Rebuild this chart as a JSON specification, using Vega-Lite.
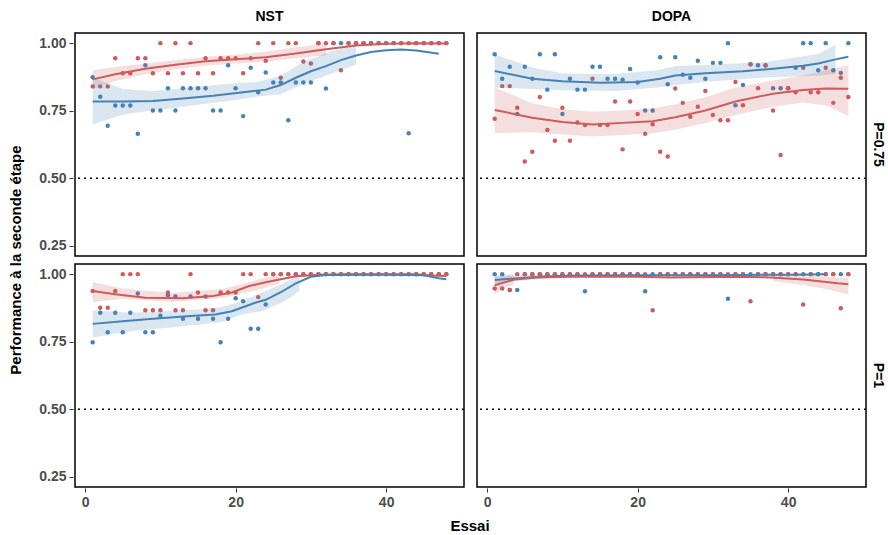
{
"$schema":"https://vega.github.io/schema/vega-lite/v6.json",
"background":"white",
"padding":{"left":8,"top":10,"right":2,"bottom":0},
"data":{"values":[
{"c":"NST","P":"P=0.75","k":"pt","g":"B","essai":1,"perf":0.874},{"c":"NST","P":"P=0.75","k":"pt","g":"B","essai":2,"perf":0.802},{"c":"NST","P":"P=0.75","k":"pt","g":"B","essai":3,"perf":0.694},{"c":"NST","P":"P=0.75","k":"pt","g":"B","essai":4,"perf":0.769},{"c":"NST","P":"P=0.75","k":"pt","g":"B","essai":5,"perf":0.769},{"c":"NST","P":"P=0.75","k":"pt","g":"B","essai":6,"perf":0.769},{"c":"NST","P":"P=0.75","k":"pt","g":"B","essai":7,"perf":0.665},{"c":"NST","P":"P=0.75","k":"pt","g":"B","essai":8,"perf":0.918},{"c":"NST","P":"P=0.75","k":"pt","g":"B","essai":9,"perf":0.751},{"c":"NST","P":"P=0.75","k":"pt","g":"B","essai":10,"perf":0.751},{"c":"NST","P":"P=0.75","k":"pt","g":"B","essai":11,"perf":0.833},{"c":"NST","P":"P=0.75","k":"pt","g":"B","essai":12,"perf":0.751},{"c":"NST","P":"P=0.75","k":"pt","g":"B","essai":13,"perf":0.833},{"c":"NST","P":"P=0.75","k":"pt","g":"B","essai":14,"perf":0.833},{"c":"NST","P":"P=0.75","k":"pt","g":"B","essai":15,"perf":0.833},{"c":"NST","P":"P=0.75","k":"pt","g":"B","essai":16,"perf":0.833},{"c":"NST","P":"P=0.75","k":"pt","g":"B","essai":17,"perf":0.751},{"c":"NST","P":"P=0.75","k":"pt","g":"B","essai":18,"perf":0.751},{"c":"NST","P":"P=0.75","k":"pt","g":"B","essai":19,"perf":0.918},{"c":"NST","P":"P=0.75","k":"pt","g":"B","essai":20,"perf":0.833},{"c":"NST","P":"P=0.75","k":"pt","g":"B","essai":21,"perf":0.730},{"c":"NST","P":"P=0.75","k":"pt","g":"B","essai":22,"perf":0.909},{"c":"NST","P":"P=0.75","k":"pt","g":"B","essai":23,"perf":0.818},{"c":"NST","P":"P=0.75","k":"pt","g":"B","essai":24,"perf":0.891},{"c":"NST","P":"P=0.75","k":"pt","g":"B","essai":25,"perf":0.854},{"c":"NST","P":"P=0.75","k":"pt","g":"B","essai":26,"perf":0.854},{"c":"NST","P":"P=0.75","k":"pt","g":"B","essai":27,"perf":0.715},{"c":"NST","P":"P=0.75","k":"pt","g":"B","essai":28,"perf":0.854},{"c":"NST","P":"P=0.75","k":"pt","g":"B","essai":29,"perf":0.854},{"c":"NST","P":"P=0.75","k":"pt","g":"B","essai":30,"perf":0.854},{"c":"NST","P":"P=0.75","k":"pt","g":"B","essai":31,"perf":1},{"c":"NST","P":"P=0.75","k":"pt","g":"B","essai":32,"perf":0.832},{"c":"NST","P":"P=0.75","k":"pt","g":"B","essai":33,"perf":1},{"c":"NST","P":"P=0.75","k":"pt","g":"B","essai":34,"perf":1},{"c":"NST","P":"P=0.75","k":"pt","g":"B","essai":35,"perf":1},{"c":"NST","P":"P=0.75","k":"pt","g":"B","essai":36,"perf":1},{"c":"NST","P":"P=0.75","k":"pt","g":"B","essai":37,"perf":1},{"c":"NST","P":"P=0.75","k":"pt","g":"B","essai":38,"perf":1},{"c":"NST","P":"P=0.75","k":"pt","g":"B","essai":39,"perf":1},{"c":"NST","P":"P=0.75","k":"pt","g":"B","essai":40,"perf":1},{"c":"NST","P":"P=0.75","k":"pt","g":"B","essai":41,"perf":1},{"c":"NST","P":"P=0.75","k":"pt","g":"B","essai":42,"perf":1},{"c":"NST","P":"P=0.75","k":"pt","g":"B","essai":43,"perf":0.667},{"c":"NST","P":"P=0.75","k":"pt","g":"B","essai":44,"perf":1},{"c":"NST","P":"P=0.75","k":"pt","g":"B","essai":45,"perf":1},{"c":"NST","P":"P=0.75","k":"pt","g":"B","essai":46,"perf":1},{"c":"NST","P":"P=0.75","k":"pt","g":"B","essai":47,"perf":1},{"c":"NST","P":"P=0.75","k":"pt","g":"B","essai":48,"perf":1},
{"c":"NST","P":"P=0.75","k":"pt","g":"R","essai":1,"perf":0.84},{"c":"NST","P":"P=0.75","k":"pt","g":"R","essai":2,"perf":0.84},{"c":"NST","P":"P=0.75","k":"pt","g":"R","essai":3,"perf":0.84},{"c":"NST","P":"P=0.75","k":"pt","g":"R","essai":4,"perf":0.944},{"c":"NST","P":"P=0.75","k":"pt","g":"R","essai":5,"perf":0.889},{"c":"NST","P":"P=0.75","k":"pt","g":"R","essai":6,"perf":0.889},{"c":"NST","P":"P=0.75","k":"pt","g":"R","essai":7,"perf":0.944},{"c":"NST","P":"P=0.75","k":"pt","g":"R","essai":8,"perf":0.944},{"c":"NST","P":"P=0.75","k":"pt","g":"R","essai":9,"perf":0.889},{"c":"NST","P":"P=0.75","k":"pt","g":"R","essai":10,"perf":1},{"c":"NST","P":"P=0.75","k":"pt","g":"R","essai":11,"perf":0.889},{"c":"NST","P":"P=0.75","k":"pt","g":"R","essai":12,"perf":1},{"c":"NST","P":"P=0.75","k":"pt","g":"R","essai":13,"perf":0.889},{"c":"NST","P":"P=0.75","k":"pt","g":"R","essai":14,"perf":1},{"c":"NST","P":"P=0.75","k":"pt","g":"R","essai":15,"perf":0.889},{"c":"NST","P":"P=0.75","k":"pt","g":"R","essai":16,"perf":0.944},{"c":"NST","P":"P=0.75","k":"pt","g":"R","essai":17,"perf":0.889},{"c":"NST","P":"P=0.75","k":"pt","g":"R","essai":18,"perf":0.944},{"c":"NST","P":"P=0.75","k":"pt","g":"R","essai":19,"perf":0.944},{"c":"NST","P":"P=0.75","k":"pt","g":"R","essai":20,"perf":0.944},{"c":"NST","P":"P=0.75","k":"pt","g":"R","essai":21,"perf":0.889},{"c":"NST","P":"P=0.75","k":"pt","g":"R","essai":22,"perf":0.944},{"c":"NST","P":"P=0.75","k":"pt","g":"R","essai":23,"perf":1},{"c":"NST","P":"P=0.75","k":"pt","g":"R","essai":24,"perf":0.935},{"c":"NST","P":"P=0.75","k":"pt","g":"R","essai":25,"perf":1},{"c":"NST","P":"P=0.75","k":"pt","g":"R","essai":26,"perf":0.872},{"c":"NST","P":"P=0.75","k":"pt","g":"R","essai":27,"perf":1},{"c":"NST","P":"P=0.75","k":"pt","g":"R","essai":28,"perf":1},{"c":"NST","P":"P=0.75","k":"pt","g":"R","essai":29,"perf":0.932},{"c":"NST","P":"P=0.75","k":"pt","g":"R","essai":30,"perf":0.925},{"c":"NST","P":"P=0.75","k":"pt","g":"R","essai":31,"perf":1},{"c":"NST","P":"P=0.75","k":"pt","g":"R","essai":32,"perf":1},{"c":"NST","P":"P=0.75","k":"pt","g":"R","essai":33,"perf":1},{"c":"NST","P":"P=0.75","k":"pt","g":"R","essai":34,"perf":0.90},{"c":"NST","P":"P=0.75","k":"pt","g":"R","essai":35,"perf":1},{"c":"NST","P":"P=0.75","k":"pt","g":"R","essai":36,"perf":1},{"c":"NST","P":"P=0.75","k":"pt","g":"R","essai":37,"perf":1},{"c":"NST","P":"P=0.75","k":"pt","g":"R","essai":38,"perf":1},{"c":"NST","P":"P=0.75","k":"pt","g":"R","essai":39,"perf":1},{"c":"NST","P":"P=0.75","k":"pt","g":"R","essai":40,"perf":1},{"c":"NST","P":"P=0.75","k":"pt","g":"R","essai":41,"perf":1},{"c":"NST","P":"P=0.75","k":"pt","g":"R","essai":42,"perf":1},{"c":"NST","P":"P=0.75","k":"pt","g":"R","essai":43,"perf":1},{"c":"NST","P":"P=0.75","k":"pt","g":"R","essai":44,"perf":1},{"c":"NST","P":"P=0.75","k":"pt","g":"R","essai":45,"perf":1},{"c":"NST","P":"P=0.75","k":"pt","g":"R","essai":46,"perf":1},{"c":"NST","P":"P=0.75","k":"pt","g":"R","essai":47,"perf":1},{"c":"NST","P":"P=0.75","k":"pt","g":"R","essai":48,"perf":1},
{"c":"DOPA","P":"P=0.75","k":"pt","g":"B","essai":1,"perf":0.959},{"c":"DOPA","P":"P=0.75","k":"pt","g":"B","essai":2,"perf":0.868},{"c":"DOPA","P":"P=0.75","k":"pt","g":"B","essai":3,"perf":0.913},{"c":"DOPA","P":"P=0.75","k":"pt","g":"B","essai":4,"perf":0.738},{"c":"DOPA","P":"P=0.75","k":"pt","g":"B","essai":5,"perf":0.913},{"c":"DOPA","P":"P=0.75","k":"pt","g":"B","essai":6,"perf":0.868},{"c":"DOPA","P":"P=0.75","k":"pt","g":"B","essai":7,"perf":0.959},{"c":"DOPA","P":"P=0.75","k":"pt","g":"B","essai":8,"perf":0.828},{"c":"DOPA","P":"P=0.75","k":"pt","g":"B","essai":9,"perf":0.959},{"c":"DOPA","P":"P=0.75","k":"pt","g":"B","essai":10,"perf":0.738},{"c":"DOPA","P":"P=0.75","k":"pt","g":"B","essai":11,"perf":0.868},{"c":"DOPA","P":"P=0.75","k":"pt","g":"B","essai":12,"perf":0.828},{"c":"DOPA","P":"P=0.75","k":"pt","g":"B","essai":13,"perf":0.828},{"c":"DOPA","P":"P=0.75","k":"pt","g":"B","essai":14,"perf":0.913},{"c":"DOPA","P":"P=0.75","k":"pt","g":"B","essai":15,"perf":0.913},{"c":"DOPA","P":"P=0.75","k":"pt","g":"B","essai":16,"perf":0.868},{"c":"DOPA","P":"P=0.75","k":"pt","g":"B","essai":17,"perf":0.868},{"c":"DOPA","P":"P=0.75","k":"pt","g":"B","essai":18,"perf":0.865},{"c":"DOPA","P":"P=0.75","k":"pt","g":"B","essai":19,"perf":0.904},{"c":"DOPA","P":"P=0.75","k":"pt","g":"B","essai":20,"perf":0.854},{"c":"DOPA","P":"P=0.75","k":"pt","g":"B","essai":21,"perf":0.751},{"c":"DOPA","P":"P=0.75","k":"pt","g":"B","essai":22,"perf":0.751},{"c":"DOPA","P":"P=0.75","k":"pt","g":"B","essai":23,"perf":0.948},{"c":"DOPA","P":"P=0.75","k":"pt","g":"B","essai":24,"perf":0.848},{"c":"DOPA","P":"P=0.75","k":"pt","g":"B","essai":25,"perf":0.948},{"c":"DOPA","P":"P=0.75","k":"pt","g":"B","essai":26,"perf":0.883},{"c":"DOPA","P":"P=0.75","k":"pt","g":"B","essai":27,"perf":0.872},{"c":"DOPA","P":"P=0.75","k":"pt","g":"B","essai":28,"perf":0.935},{"c":"DOPA","P":"P=0.75","k":"pt","g":"B","essai":29,"perf":0.868},{"c":"DOPA","P":"P=0.75","k":"pt","g":"B","essai":30,"perf":0.927},{"c":"DOPA","P":"P=0.75","k":"pt","g":"B","essai":31,"perf":0.927},{"c":"DOPA","P":"P=0.75","k":"pt","g":"B","essai":32,"perf":1},{"c":"DOPA","P":"P=0.75","k":"pt","g":"B","essai":33,"perf":0.770},{"c":"DOPA","P":"P=0.75","k":"pt","g":"B","essai":34,"perf":0.845},{"c":"DOPA","P":"P=0.75","k":"pt","g":"B","essai":35,"perf":0.922},{"c":"DOPA","P":"P=0.75","k":"pt","g":"B","essai":36,"perf":0.918},{"c":"DOPA","P":"P=0.75","k":"pt","g":"B","essai":37,"perf":0.917},{"c":"DOPA","P":"P=0.75","k":"pt","g":"B","essai":38,"perf":0.833},{"c":"DOPA","P":"P=0.75","k":"pt","g":"B","essai":39,"perf":0.833},{"c":"DOPA","P":"P=0.75","k":"pt","g":"B","essai":40,"perf":0.833},{"c":"DOPA","P":"P=0.75","k":"pt","g":"B","essai":41,"perf":0.909},{"c":"DOPA","P":"P=0.75","k":"pt","g":"B","essai":42,"perf":1},{"c":"DOPA","P":"P=0.75","k":"pt","g":"B","essai":43,"perf":1},{"c":"DOPA","P":"P=0.75","k":"pt","g":"B","essai":44,"perf":0.90},{"c":"DOPA","P":"P=0.75","k":"pt","g":"B","essai":45,"perf":1},{"c":"DOPA","P":"P=0.75","k":"pt","g":"B","essai":46,"perf":0.90},{"c":"DOPA","P":"P=0.75","k":"pt","g":"B","essai":47,"perf":0.89},{"c":"DOPA","P":"P=0.75","k":"pt","g":"B","essai":48,"perf":1},
{"c":"DOPA","P":"P=0.75","k":"pt","g":"R","essai":1,"perf":0.72},{"c":"DOPA","P":"P=0.75","k":"pt","g":"R","essai":2,"perf":0.841},{"c":"DOPA","P":"P=0.75","k":"pt","g":"R","essai":3,"perf":0.841},{"c":"DOPA","P":"P=0.75","k":"pt","g":"R","essai":4,"perf":0.761},{"c":"DOPA","P":"P=0.75","k":"pt","g":"R","essai":5,"perf":0.562},{"c":"DOPA","P":"P=0.75","k":"pt","g":"R","essai":6,"perf":0.598},{"c":"DOPA","P":"P=0.75","k":"pt","g":"R","essai":7,"perf":0.801},{"c":"DOPA","P":"P=0.75","k":"pt","g":"R","essai":8,"perf":0.679},{"c":"DOPA","P":"P=0.75","k":"pt","g":"R","essai":9,"perf":0.639},{"c":"DOPA","P":"P=0.75","k":"pt","g":"R","essai":10,"perf":0.761},{"c":"DOPA","P":"P=0.75","k":"pt","g":"R","essai":11,"perf":0.639},{"c":"DOPA","P":"P=0.75","k":"pt","g":"R","essai":12,"perf":0.706},{"c":"DOPA","P":"P=0.75","k":"pt","g":"R","essai":13,"perf":0.697},{"c":"DOPA","P":"P=0.75","k":"pt","g":"R","essai":14,"perf":0.868},{"c":"DOPA","P":"P=0.75","k":"pt","g":"R","essai":15,"perf":0.697},{"c":"DOPA","P":"P=0.75","k":"pt","g":"R","essai":16,"perf":0.697},{"c":"DOPA","P":"P=0.75","k":"pt","g":"R","essai":17,"perf":0.784},{"c":"DOPA","P":"P=0.75","k":"pt","g":"R","essai":18,"perf":0.607},{"c":"DOPA","P":"P=0.75","k":"pt","g":"R","essai":19,"perf":0.784},{"c":"DOPA","P":"P=0.75","k":"pt","g":"R","essai":20,"perf":0.738},{"c":"DOPA","P":"P=0.75","k":"pt","g":"R","essai":21,"perf":0.665},{"c":"DOPA","P":"P=0.75","k":"pt","g":"R","essai":22,"perf":0.70},{"c":"DOPA","P":"P=0.75","k":"pt","g":"R","essai":23,"perf":0.598},{"c":"DOPA","P":"P=0.75","k":"pt","g":"R","essai":24,"perf":0.581},{"c":"DOPA","P":"P=0.75","k":"pt","g":"R","essai":25,"perf":0.832},{"c":"DOPA","P":"P=0.75","k":"pt","g":"R","essai":26,"perf":0.779},{"c":"DOPA","P":"P=0.75","k":"pt","g":"R","essai":27,"perf":0.728},{"c":"DOPA","P":"P=0.75","k":"pt","g":"R","essai":28,"perf":0.765},{"c":"DOPA","P":"P=0.75","k":"pt","g":"R","essai":29,"perf":0.823},{"c":"DOPA","P":"P=0.75","k":"pt","g":"R","essai":30,"perf":0.734},{"c":"DOPA","P":"P=0.75","k":"pt","g":"R","essai":31,"perf":0.715},{"c":"DOPA","P":"P=0.75","k":"pt","g":"R","essai":32,"perf":0.715},{"c":"DOPA","P":"P=0.75","k":"pt","g":"R","essai":33,"perf":0.856},{"c":"DOPA","P":"P=0.75","k":"pt","g":"R","essai":34,"perf":0.770},{"c":"DOPA","P":"P=0.75","k":"pt","g":"R","essai":35,"perf":0.922},{"c":"DOPA","P":"P=0.75","k":"pt","g":"R","essai":36,"perf":0.833},{"c":"DOPA","P":"P=0.75","k":"pt","g":"R","essai":37,"perf":0.918},{"c":"DOPA","P":"P=0.75","k":"pt","g":"R","essai":38,"perf":0.751},{"c":"DOPA","P":"P=0.75","k":"pt","g":"R","essai":39,"perf":0.586},{"c":"DOPA","P":"P=0.75","k":"pt","g":"R","essai":40,"perf":0.833},{"c":"DOPA","P":"P=0.75","k":"pt","g":"R","essai":41,"perf":0.818},{"c":"DOPA","P":"P=0.75","k":"pt","g":"R","essai":42,"perf":0.909},{"c":"DOPA","P":"P=0.75","k":"pt","g":"R","essai":43,"perf":0.818},{"c":"DOPA","P":"P=0.75","k":"pt","g":"R","essai":44,"perf":0.818},{"c":"DOPA","P":"P=0.75","k":"pt","g":"R","essai":45,"perf":0.909},{"c":"DOPA","P":"P=0.75","k":"pt","g":"R","essai":46,"perf":0.779},{"c":"DOPA","P":"P=0.75","k":"pt","g":"R","essai":47,"perf":0.872},{"c":"DOPA","P":"P=0.75","k":"pt","g":"R","essai":48,"perf":0.801},
{"c":"NST","P":"P=1","k":"pt","g":"B","essai":1,"perf":0.748},{"c":"NST","P":"P=1","k":"pt","g":"B","essai":2,"perf":0.857},{"c":"NST","P":"P=1","k":"pt","g":"B","essai":3,"perf":0.785},{"c":"NST","P":"P=1","k":"pt","g":"B","essai":4,"perf":0.857},{"c":"NST","P":"P=1","k":"pt","g":"B","essai":5,"perf":0.785},{"c":"NST","P":"P=1","k":"pt","g":"B","essai":6,"perf":0.857},{"c":"NST","P":"P=1","k":"pt","g":"B","essai":7,"perf":0.928},{"c":"NST","P":"P=1","k":"pt","g":"B","essai":8,"perf":0.785},{"c":"NST","P":"P=1","k":"pt","g":"B","essai":9,"perf":0.785},{"c":"NST","P":"P=1","k":"pt","g":"B","essai":10,"perf":0.846},{"c":"NST","P":"P=1","k":"pt","g":"B","essai":11,"perf":0.922},{"c":"NST","P":"P=1","k":"pt","g":"B","essai":12,"perf":0.917},{"c":"NST","P":"P=1","k":"pt","g":"B","essai":13,"perf":0.835},{"c":"NST","P":"P=1","k":"pt","g":"B","essai":14,"perf":0.917},{"c":"NST","P":"P=1","k":"pt","g":"B","essai":15,"perf":0.835},{"c":"NST","P":"P=1","k":"pt","g":"B","essai":16,"perf":0.917},{"c":"NST","P":"P=1","k":"pt","g":"B","essai":17,"perf":0.835},{"c":"NST","P":"P=1","k":"pt","g":"B","essai":18,"perf":0.748},{"c":"NST","P":"P=1","k":"pt","g":"B","essai":19,"perf":0.835},{"c":"NST","P":"P=1","k":"pt","g":"B","essai":20,"perf":0.911},{"c":"NST","P":"P=1","k":"pt","g":"B","essai":21,"perf":0.90},{"c":"NST","P":"P=1","k":"pt","g":"B","essai":22,"perf":0.798},{"c":"NST","P":"P=1","k":"pt","g":"B","essai":23,"perf":0.798},{"c":"NST","P":"P=1","k":"pt","g":"B","essai":24,"perf":0.888},{"c":"NST","P":"P=1","k":"pt","g":"B","essai":25,"perf":1},{"c":"NST","P":"P=1","k":"pt","g":"B","essai":26,"perf":1},{"c":"NST","P":"P=1","k":"pt","g":"B","essai":27,"perf":1},{"c":"NST","P":"P=1","k":"pt","g":"B","essai":28,"perf":1},{"c":"NST","P":"P=1","k":"pt","g":"B","essai":29,"perf":1},{"c":"NST","P":"P=1","k":"pt","g":"B","essai":30,"perf":1},{"c":"NST","P":"P=1","k":"pt","g":"B","essai":31,"perf":1},{"c":"NST","P":"P=1","k":"pt","g":"B","essai":32,"perf":1},{"c":"NST","P":"P=1","k":"pt","g":"B","essai":33,"perf":1},{"c":"NST","P":"P=1","k":"pt","g":"B","essai":34,"perf":1},{"c":"NST","P":"P=1","k":"pt","g":"B","essai":35,"perf":1},{"c":"NST","P":"P=1","k":"pt","g":"B","essai":36,"perf":1},{"c":"NST","P":"P=1","k":"pt","g":"B","essai":37,"perf":1},{"c":"NST","P":"P=1","k":"pt","g":"B","essai":38,"perf":1},{"c":"NST","P":"P=1","k":"pt","g":"B","essai":39,"perf":1},{"c":"NST","P":"P=1","k":"pt","g":"B","essai":40,"perf":1},{"c":"NST","P":"P=1","k":"pt","g":"B","essai":41,"perf":1},{"c":"NST","P":"P=1","k":"pt","g":"B","essai":42,"perf":1},{"c":"NST","P":"P=1","k":"pt","g":"B","essai":43,"perf":1},{"c":"NST","P":"P=1","k":"pt","g":"B","essai":44,"perf":1},{"c":"NST","P":"P=1","k":"pt","g":"B","essai":45,"perf":1},{"c":"NST","P":"P=1","k":"pt","g":"B","essai":46,"perf":1},{"c":"NST","P":"P=1","k":"pt","g":"B","essai":47,"perf":1},{"c":"NST","P":"P=1","k":"pt","g":"B","essai":48,"perf":1},
{"c":"NST","P":"P=1","k":"pt","g":"R","essai":1,"perf":0.938},{"c":"NST","P":"P=1","k":"pt","g":"R","essai":2,"perf":0.876},{"c":"NST","P":"P=1","k":"pt","g":"R","essai":3,"perf":0.876},{"c":"NST","P":"P=1","k":"pt","g":"R","essai":4,"perf":0.938},{"c":"NST","P":"P=1","k":"pt","g":"R","essai":5,"perf":1},{"c":"NST","P":"P=1","k":"pt","g":"R","essai":6,"perf":1},{"c":"NST","P":"P=1","k":"pt","g":"R","essai":7,"perf":1},{"c":"NST","P":"P=1","k":"pt","g":"R","essai":8,"perf":0.866},{"c":"NST","P":"P=1","k":"pt","g":"R","essai":9,"perf":0.866},{"c":"NST","P":"P=1","k":"pt","g":"R","essai":10,"perf":0.866},{"c":"NST","P":"P=1","k":"pt","g":"R","essai":11,"perf":0.932},{"c":"NST","P":"P=1","k":"pt","g":"R","essai":12,"perf":0.866},{"c":"NST","P":"P=1","k":"pt","g":"R","essai":13,"perf":0.866},{"c":"NST","P":"P=1","k":"pt","g":"R","essai":14,"perf":1},{"c":"NST","P":"P=1","k":"pt","g":"R","essai":15,"perf":0.932},{"c":"NST","P":"P=1","k":"pt","g":"R","essai":16,"perf":0.866},{"c":"NST","P":"P=1","k":"pt","g":"R","essai":17,"perf":0.866},{"c":"NST","P":"P=1","k":"pt","g":"R","essai":18,"perf":0.932},{"c":"NST","P":"P=1","k":"pt","g":"R","essai":19,"perf":0.932},{"c":"NST","P":"P=1","k":"pt","g":"R","essai":20,"perf":0.932},{"c":"NST","P":"P=1","k":"pt","g":"R","essai":21,"perf":1},{"c":"NST","P":"P=1","k":"pt","g":"R","essai":22,"perf":1},{"c":"NST","P":"P=1","k":"pt","g":"R","essai":23,"perf":0.915},{"c":"NST","P":"P=1","k":"pt","g":"R","essai":24,"perf":1},{"c":"NST","P":"P=1","k":"pt","g":"R","essai":25,"perf":1},{"c":"NST","P":"P=1","k":"pt","g":"R","essai":26,"perf":1},{"c":"NST","P":"P=1","k":"pt","g":"R","essai":27,"perf":1},{"c":"NST","P":"P=1","k":"pt","g":"R","essai":28,"perf":1},{"c":"NST","P":"P=1","k":"pt","g":"R","essai":29,"perf":1},{"c":"NST","P":"P=1","k":"pt","g":"R","essai":30,"perf":1},{"c":"NST","P":"P=1","k":"pt","g":"R","essai":31,"perf":1},{"c":"NST","P":"P=1","k":"pt","g":"R","essai":32,"perf":1},{"c":"NST","P":"P=1","k":"pt","g":"R","essai":33,"perf":1},{"c":"NST","P":"P=1","k":"pt","g":"R","essai":34,"perf":1},{"c":"NST","P":"P=1","k":"pt","g":"R","essai":35,"perf":1},{"c":"NST","P":"P=1","k":"pt","g":"R","essai":36,"perf":1},{"c":"NST","P":"P=1","k":"pt","g":"R","essai":37,"perf":1},{"c":"NST","P":"P=1","k":"pt","g":"R","essai":38,"perf":1},{"c":"NST","P":"P=1","k":"pt","g":"R","essai":39,"perf":1},{"c":"NST","P":"P=1","k":"pt","g":"R","essai":40,"perf":1},{"c":"NST","P":"P=1","k":"pt","g":"R","essai":41,"perf":1},{"c":"NST","P":"P=1","k":"pt","g":"R","essai":42,"perf":1},{"c":"NST","P":"P=1","k":"pt","g":"R","essai":43,"perf":1},{"c":"NST","P":"P=1","k":"pt","g":"R","essai":44,"perf":1},{"c":"NST","P":"P=1","k":"pt","g":"R","essai":45,"perf":1},{"c":"NST","P":"P=1","k":"pt","g":"R","essai":46,"perf":1},{"c":"NST","P":"P=1","k":"pt","g":"R","essai":47,"perf":1},{"c":"NST","P":"P=1","k":"pt","g":"R","essai":48,"perf":1},
{"c":"DOPA","P":"P=1","k":"pt","g":"B","essai":1,"perf":1},{"c":"DOPA","P":"P=1","k":"pt","g":"B","essai":2,"perf":1},{"c":"DOPA","P":"P=1","k":"pt","g":"B","essai":3,"perf":0.941},{"c":"DOPA","P":"P=1","k":"pt","g":"B","essai":4,"perf":0.941},{"c":"DOPA","P":"P=1","k":"pt","g":"B","essai":5,"perf":1},{"c":"DOPA","P":"P=1","k":"pt","g":"B","essai":6,"perf":1},{"c":"DOPA","P":"P=1","k":"pt","g":"B","essai":7,"perf":1},{"c":"DOPA","P":"P=1","k":"pt","g":"B","essai":8,"perf":1},{"c":"DOPA","P":"P=1","k":"pt","g":"B","essai":9,"perf":1},{"c":"DOPA","P":"P=1","k":"pt","g":"B","essai":10,"perf":1},{"c":"DOPA","P":"P=1","k":"pt","g":"B","essai":11,"perf":1},{"c":"DOPA","P":"P=1","k":"pt","g":"B","essai":12,"perf":1},{"c":"DOPA","P":"P=1","k":"pt","g":"B","essai":13,"perf":0.937},{"c":"DOPA","P":"P=1","k":"pt","g":"B","essai":14,"perf":1},{"c":"DOPA","P":"P=1","k":"pt","g":"B","essai":15,"perf":1},{"c":"DOPA","P":"P=1","k":"pt","g":"B","essai":16,"perf":1},{"c":"DOPA","P":"P=1","k":"pt","g":"B","essai":17,"perf":1},{"c":"DOPA","P":"P=1","k":"pt","g":"B","essai":18,"perf":1},{"c":"DOPA","P":"P=1","k":"pt","g":"B","essai":19,"perf":1},{"c":"DOPA","P":"P=1","k":"pt","g":"B","essai":20,"perf":1},{"c":"DOPA","P":"P=1","k":"pt","g":"B","essai":21,"perf":0.937},{"c":"DOPA","P":"P=1","k":"pt","g":"B","essai":22,"perf":1},{"c":"DOPA","P":"P=1","k":"pt","g":"B","essai":23,"perf":1},{"c":"DOPA","P":"P=1","k":"pt","g":"B","essai":24,"perf":1},{"c":"DOPA","P":"P=1","k":"pt","g":"B","essai":25,"perf":1},{"c":"DOPA","P":"P=1","k":"pt","g":"B","essai":26,"perf":1},{"c":"DOPA","P":"P=1","k":"pt","g":"B","essai":27,"perf":1},{"c":"DOPA","P":"P=1","k":"pt","g":"B","essai":28,"perf":1},{"c":"DOPA","P":"P=1","k":"pt","g":"B","essai":29,"perf":1},{"c":"DOPA","P":"P=1","k":"pt","g":"B","essai":30,"perf":1},{"c":"DOPA","P":"P=1","k":"pt","g":"B","essai":31,"perf":1},{"c":"DOPA","P":"P=1","k":"pt","g":"B","essai":32,"perf":0.909},{"c":"DOPA","P":"P=1","k":"pt","g":"B","essai":33,"perf":1},{"c":"DOPA","P":"P=1","k":"pt","g":"B","essai":34,"perf":1},{"c":"DOPA","P":"P=1","k":"pt","g":"B","essai":35,"perf":1},{"c":"DOPA","P":"P=1","k":"pt","g":"B","essai":36,"perf":1},{"c":"DOPA","P":"P=1","k":"pt","g":"B","essai":37,"perf":1},{"c":"DOPA","P":"P=1","k":"pt","g":"B","essai":38,"perf":1},{"c":"DOPA","P":"P=1","k":"pt","g":"B","essai":39,"perf":1},{"c":"DOPA","P":"P=1","k":"pt","g":"B","essai":40,"perf":1},{"c":"DOPA","P":"P=1","k":"pt","g":"B","essai":41,"perf":1},{"c":"DOPA","P":"P=1","k":"pt","g":"B","essai":42,"perf":1},{"c":"DOPA","P":"P=1","k":"pt","g":"B","essai":43,"perf":1},{"c":"DOPA","P":"P=1","k":"pt","g":"B","essai":45,"perf":1},{"c":"DOPA","P":"P=1","k":"pt","g":"B","essai":46,"perf":1},{"c":"DOPA","P":"P=1","k":"pt","g":"B","essai":47,"perf":1},{"c":"DOPA","P":"P=1","k":"pt","g":"B","essai":48,"perf":1},
{"c":"DOPA","P":"P=1","k":"pt","g":"R","essai":1,"perf":0.947},{"c":"DOPA","P":"P=1","k":"pt","g":"R","essai":2,"perf":0.947},{"c":"DOPA","P":"P=1","k":"pt","g":"R","essai":3,"perf":0.941},{"c":"DOPA","P":"P=1","k":"pt","g":"R","essai":4,"perf":1},{"c":"DOPA","P":"P=1","k":"pt","g":"R","essai":5,"perf":1},{"c":"DOPA","P":"P=1","k":"pt","g":"R","essai":6,"perf":1},{"c":"DOPA","P":"P=1","k":"pt","g":"R","essai":7,"perf":1},{"c":"DOPA","P":"P=1","k":"pt","g":"R","essai":8,"perf":1},{"c":"DOPA","P":"P=1","k":"pt","g":"R","essai":9,"perf":1},{"c":"DOPA","P":"P=1","k":"pt","g":"R","essai":10,"perf":1},{"c":"DOPA","P":"P=1","k":"pt","g":"R","essai":11,"perf":1},{"c":"DOPA","P":"P=1","k":"pt","g":"R","essai":12,"perf":1},{"c":"DOPA","P":"P=1","k":"pt","g":"R","essai":13,"perf":1},{"c":"DOPA","P":"P=1","k":"pt","g":"R","essai":14,"perf":1},{"c":"DOPA","P":"P=1","k":"pt","g":"R","essai":15,"perf":1},{"c":"DOPA","P":"P=1","k":"pt","g":"R","essai":16,"perf":1},{"c":"DOPA","P":"P=1","k":"pt","g":"R","essai":17,"perf":1},{"c":"DOPA","P":"P=1","k":"pt","g":"R","essai":18,"perf":1},{"c":"DOPA","P":"P=1","k":"pt","g":"R","essai":19,"perf":1},{"c":"DOPA","P":"P=1","k":"pt","g":"R","essai":20,"perf":1},{"c":"DOPA","P":"P=1","k":"pt","g":"R","essai":21,"perf":1},{"c":"DOPA","P":"P=1","k":"pt","g":"R","essai":22,"perf":0.866},{"c":"DOPA","P":"P=1","k":"pt","g":"R","essai":23,"perf":1},{"c":"DOPA","P":"P=1","k":"pt","g":"R","essai":24,"perf":1},{"c":"DOPA","P":"P=1","k":"pt","g":"R","essai":25,"perf":1},{"c":"DOPA","P":"P=1","k":"pt","g":"R","essai":26,"perf":1},{"c":"DOPA","P":"P=1","k":"pt","g":"R","essai":27,"perf":1},{"c":"DOPA","P":"P=1","k":"pt","g":"R","essai":28,"perf":1},{"c":"DOPA","P":"P=1","k":"pt","g":"R","essai":29,"perf":1},{"c":"DOPA","P":"P=1","k":"pt","g":"R","essai":30,"perf":1},{"c":"DOPA","P":"P=1","k":"pt","g":"R","essai":31,"perf":1},{"c":"DOPA","P":"P=1","k":"pt","g":"R","essai":32,"perf":1},{"c":"DOPA","P":"P=1","k":"pt","g":"R","essai":33,"perf":1},{"c":"DOPA","P":"P=1","k":"pt","g":"R","essai":34,"perf":1},{"c":"DOPA","P":"P=1","k":"pt","g":"R","essai":35,"perf":0.90},{"c":"DOPA","P":"P=1","k":"pt","g":"R","essai":36,"perf":1},{"c":"DOPA","P":"P=1","k":"pt","g":"R","essai":37,"perf":1},{"c":"DOPA","P":"P=1","k":"pt","g":"R","essai":38,"perf":1},{"c":"DOPA","P":"P=1","k":"pt","g":"R","essai":39,"perf":1},{"c":"DOPA","P":"P=1","k":"pt","g":"R","essai":40,"perf":1},{"c":"DOPA","P":"P=1","k":"pt","g":"R","essai":41,"perf":1},{"c":"DOPA","P":"P=1","k":"pt","g":"R","essai":42,"perf":0.888},{"c":"DOPA","P":"P=1","k":"pt","g":"R","essai":43,"perf":1},{"c":"DOPA","P":"P=1","k":"pt","g":"R","essai":44,"perf":1},{"c":"DOPA","P":"P=1","k":"pt","g":"R","essai":45,"perf":1},{"c":"DOPA","P":"P=1","k":"pt","g":"R","essai":46,"perf":1},{"c":"DOPA","P":"P=1","k":"pt","g":"R","essai":47,"perf":0.874},{"c":"DOPA","P":"P=1","k":"pt","g":"R","essai":48,"perf":1},
{"c":"DOPA","P":"P=1","k":"pt","g":"B","essai":44,"perf":1},
{"c":"NST","P":"P=0.75","k":"fit","g":"R","essai":1,"perf":0.866},{"c":"NST","P":"P=0.75","k":"fit","g":"R","essai":4,"perf":0.885},{"c":"NST","P":"P=0.75","k":"fit","g":"R","essai":8,"perf":0.905},{"c":"NST","P":"P=0.75","k":"fit","g":"R","essai":12,"perf":0.92},{"c":"NST","P":"P=0.75","k":"fit","g":"R","essai":16,"perf":0.933},{"c":"NST","P":"P=0.75","k":"fit","g":"R","essai":20,"perf":0.94},{"c":"NST","P":"P=0.75","k":"fit","g":"R","essai":24,"perf":0.948},{"c":"NST","P":"P=0.75","k":"fit","g":"R","essai":28,"perf":0.962},{"c":"NST","P":"P=0.75","k":"fit","g":"R","essai":32,"perf":0.977},{"c":"NST","P":"P=0.75","k":"fit","g":"R","essai":36,"perf":0.991},{"c":"NST","P":"P=0.75","k":"fit","g":"R","essai":40,"perf":0.998},{"c":"NST","P":"P=0.75","k":"fit","g":"R","essai":44,"perf":1.0},{"c":"NST","P":"P=0.75","k":"fit","g":"R","essai":48,"perf":0.999},
{"c":"NST","P":"P=0.75","k":"fit","g":"B","essai":1,"perf":0.784},{"c":"NST","P":"P=0.75","k":"fit","g":"B","essai":5,"perf":0.784},{"c":"NST","P":"P=0.75","k":"fit","g":"B","essai":9,"perf":0.786},{"c":"NST","P":"P=0.75","k":"fit","g":"B","essai":13,"perf":0.795},{"c":"NST","P":"P=0.75","k":"fit","g":"B","essai":17,"perf":0.805},{"c":"NST","P":"P=0.75","k":"fit","g":"B","essai":21,"perf":0.818},{"c":"NST","P":"P=0.75","k":"fit","g":"B","essai":24,"perf":0.828},{"c":"NST","P":"P=0.75","k":"fit","g":"B","essai":26,"perf":0.845},{"c":"NST","P":"P=0.75","k":"fit","g":"B","essai":28,"perf":0.872},{"c":"NST","P":"P=0.75","k":"fit","g":"B","essai":30,"perf":0.896},{"c":"NST","P":"P=0.75","k":"fit","g":"B","essai":32,"perf":0.915},{"c":"NST","P":"P=0.75","k":"fit","g":"B","essai":34,"perf":0.937},{"c":"NST","P":"P=0.75","k":"fit","g":"B","essai":36,"perf":0.954},{"c":"NST","P":"P=0.75","k":"fit","g":"B","essai":38,"perf":0.967},{"c":"NST","P":"P=0.75","k":"fit","g":"B","essai":40,"perf":0.974},{"c":"NST","P":"P=0.75","k":"fit","g":"B","essai":42,"perf":0.976},{"c":"NST","P":"P=0.75","k":"fit","g":"B","essai":44,"perf":0.973},{"c":"NST","P":"P=0.75","k":"fit","g":"B","essai":47,"perf":0.961},
{"c":"DOPA","P":"P=0.75","k":"fit","g":"B","essai":1,"perf":0.897},{"c":"DOPA","P":"P=0.75","k":"fit","g":"B","essai":6,"perf":0.868},{"c":"DOPA","P":"P=0.75","k":"fit","g":"B","essai":10,"perf":0.859},{"c":"DOPA","P":"P=0.75","k":"fit","g":"B","essai":15,"perf":0.853},{"c":"DOPA","P":"P=0.75","k":"fit","g":"B","essai":20,"perf":0.856},{"c":"DOPA","P":"P=0.75","k":"fit","g":"B","essai":23,"perf":0.868},{"c":"DOPA","P":"P=0.75","k":"fit","g":"B","essai":25,"perf":0.88},{"c":"DOPA","P":"P=0.75","k":"fit","g":"B","essai":29,"perf":0.889},{"c":"DOPA","P":"P=0.75","k":"fit","g":"B","essai":34,"perf":0.896},{"c":"DOPA","P":"P=0.75","k":"fit","g":"B","essai":38,"perf":0.905},{"c":"DOPA","P":"P=0.75","k":"fit","g":"B","essai":42,"perf":0.916},{"c":"DOPA","P":"P=0.75","k":"fit","g":"B","essai":44,"perf":0.925},{"c":"DOPA","P":"P=0.75","k":"fit","g":"B","essai":46,"perf":0.938},{"c":"DOPA","P":"P=0.75","k":"fit","g":"B","essai":48,"perf":0.95},
{"c":"DOPA","P":"P=0.75","k":"fit","g":"R","essai":1,"perf":0.753},{"c":"DOPA","P":"P=0.75","k":"fit","g":"R","essai":6,"perf":0.724},{"c":"DOPA","P":"P=0.75","k":"fit","g":"R","essai":10,"perf":0.708},{"c":"DOPA","P":"P=0.75","k":"fit","g":"R","essai":14,"perf":0.699},{"c":"DOPA","P":"P=0.75","k":"fit","g":"R","essai":18,"perf":0.705},{"c":"DOPA","P":"P=0.75","k":"fit","g":"R","essai":22,"perf":0.711},{"c":"DOPA","P":"P=0.75","k":"fit","g":"R","essai":25,"perf":0.726},{"c":"DOPA","P":"P=0.75","k":"fit","g":"R","essai":29,"perf":0.751},{"c":"DOPA","P":"P=0.75","k":"fit","g":"R","essai":33,"perf":0.784},{"c":"DOPA","P":"P=0.75","k":"fit","g":"R","essai":38,"perf":0.813},{"c":"DOPA","P":"P=0.75","k":"fit","g":"R","essai":42,"perf":0.827},{"c":"DOPA","P":"P=0.75","k":"fit","g":"R","essai":45,"perf":0.832},{"c":"DOPA","P":"P=0.75","k":"fit","g":"R","essai":48,"perf":0.831},
{"c":"NST","P":"P=1","k":"fit","g":"R","essai":1,"perf":0.938},{"c":"NST","P":"P=1","k":"fit","g":"R","essai":4,"perf":0.926},{"c":"NST","P":"P=1","k":"fit","g":"R","essai":8,"perf":0.913},{"c":"NST","P":"P=1","k":"fit","g":"R","essai":13,"perf":0.911},{"c":"NST","P":"P=1","k":"fit","g":"R","essai":17,"perf":0.919},{"c":"NST","P":"P=1","k":"fit","g":"R","essai":19.5,"perf":0.932},{"c":"NST","P":"P=1","k":"fit","g":"R","essai":21.7,"perf":0.955},{"c":"NST","P":"P=1","k":"fit","g":"R","essai":24,"perf":0.97},{"c":"NST","P":"P=1","k":"fit","g":"R","essai":26,"perf":0.981},{"c":"NST","P":"P=1","k":"fit","g":"R","essai":28,"perf":0.992},{"c":"NST","P":"P=1","k":"fit","g":"R","essai":31,"perf":0.998},{"c":"NST","P":"P=1","k":"fit","g":"R","essai":35,"perf":1.0},{"c":"NST","P":"P=1","k":"fit","g":"R","essai":44,"perf":1.0},{"c":"NST","P":"P=1","k":"fit","g":"R","essai":46,"perf":0.995},{"c":"NST","P":"P=1","k":"fit","g":"R","essai":48,"perf":0.993},
{"c":"NST","P":"P=1","k":"fit","g":"B","essai":1,"perf":0.816},{"c":"NST","P":"P=1","k":"fit","g":"B","essai":5,"perf":0.826},{"c":"NST","P":"P=1","k":"fit","g":"B","essai":9,"perf":0.835},{"c":"NST","P":"P=1","k":"fit","g":"B","essai":14,"perf":0.845},{"c":"NST","P":"P=1","k":"fit","g":"B","essai":17.3,"perf":0.851},{"c":"NST","P":"P=1","k":"fit","g":"B","essai":19.5,"perf":0.863},{"c":"NST","P":"P=1","k":"fit","g":"B","essai":22.6,"perf":0.894},{"c":"NST","P":"P=1","k":"fit","g":"B","essai":24,"perf":0.905},{"c":"NST","P":"P=1","k":"fit","g":"B","essai":26,"perf":0.933},{"c":"NST","P":"P=1","k":"fit","g":"B","essai":28,"perf":0.966},{"c":"NST","P":"P=1","k":"fit","g":"B","essai":30,"perf":0.99},{"c":"NST","P":"P=1","k":"fit","g":"B","essai":32,"perf":0.997},{"c":"NST","P":"P=1","k":"fit","g":"B","essai":40,"perf":0.998},{"c":"NST","P":"P=1","k":"fit","g":"B","essai":45,"perf":0.996},{"c":"NST","P":"P=1","k":"fit","g":"B","essai":47,"perf":0.985},{"c":"NST","P":"P=1","k":"fit","g":"B","essai":48,"perf":0.981},
{"c":"DOPA","P":"P=1","k":"fit","g":"B","essai":1,"perf":0.978},{"c":"DOPA","P":"P=1","k":"fit","g":"B","essai":4,"perf":0.985},{"c":"DOPA","P":"P=1","k":"fit","g":"B","essai":8,"perf":0.992},{"c":"DOPA","P":"P=1","k":"fit","g":"B","essai":12,"perf":0.995},{"c":"DOPA","P":"P=1","k":"fit","g":"B","essai":20,"perf":0.996},{"c":"DOPA","P":"P=1","k":"fit","g":"B","essai":30,"perf":0.996},{"c":"DOPA","P":"P=1","k":"fit","g":"B","essai":40,"perf":0.998},{"c":"DOPA","P":"P=1","k":"fit","g":"B","essai":45,"perf":1.0},
{"c":"DOPA","P":"P=1","k":"fit","g":"R","essai":1,"perf":0.959},{"c":"DOPA","P":"P=1","k":"fit","g":"R","essai":3.6,"perf":0.98},{"c":"DOPA","P":"P=1","k":"fit","g":"R","essai":6.7,"perf":0.988},{"c":"DOPA","P":"P=1","k":"fit","g":"R","essai":11,"perf":0.99},{"c":"DOPA","P":"P=1","k":"fit","g":"R","essai":20,"perf":0.99},{"c":"DOPA","P":"P=1","k":"fit","g":"R","essai":24.5,"perf":0.988},{"c":"DOPA","P":"P=1","k":"fit","g":"R","essai":33,"perf":0.99},{"c":"DOPA","P":"P=1","k":"fit","g":"R","essai":37.7,"perf":0.988},{"c":"DOPA","P":"P=1","k":"fit","g":"R","essai":42,"perf":0.98},{"c":"DOPA","P":"P=1","k":"fit","g":"R","essai":46.6,"perf":0.966},{"c":"DOPA","P":"P=1","k":"fit","g":"R","essai":48,"perf":0.963},
{"c":"NST","P":"P=0.75","k":"band","g":"R","seg":1,"essai":1,"lo":0.83,"hi":0.90},{"c":"NST","P":"P=0.75","k":"band","g":"R","seg":1,"essai":4,"lo":0.86,"hi":0.912},{"c":"NST","P":"P=0.75","k":"band","g":"R","seg":1,"essai":8,"lo":0.885,"hi":0.925},{"c":"NST","P":"P=0.75","k":"band","g":"R","seg":1,"essai":12,"lo":0.903,"hi":0.937},{"c":"NST","P":"P=0.75","k":"band","g":"R","seg":1,"essai":16,"lo":0.916,"hi":0.95},{"c":"NST","P":"P=0.75","k":"band","g":"R","seg":1,"essai":20,"lo":0.925,"hi":0.958},{"c":"NST","P":"P=0.75","k":"band","g":"R","seg":1,"essai":24,"lo":0.93,"hi":0.968},{"c":"NST","P":"P=0.75","k":"band","g":"R","seg":1,"essai":28,"lo":0.945,"hi":0.985},{"c":"NST","P":"P=0.75","k":"band","g":"R","seg":1,"essai":32,"lo":0.955,"hi":0.998},
{"c":"NST","P":"P=0.75","k":"band","g":"B","seg":1,"essai":1,"lo":0.699,"hi":0.873},{"c":"NST","P":"P=0.75","k":"band","g":"B","seg":1,"essai":5,"lo":0.736,"hi":0.83},{"c":"NST","P":"P=0.75","k":"band","g":"B","seg":1,"essai":9,"lo":0.751,"hi":0.823},{"c":"NST","P":"P=0.75","k":"band","g":"B","seg":1,"essai":13,"lo":0.765,"hi":0.832},{"c":"NST","P":"P=0.75","k":"band","g":"B","seg":1,"essai":16,"lo":0.776,"hi":0.842},{"c":"NST","P":"P=0.75","k":"band","g":"B","seg":1,"essai":20,"lo":0.79,"hi":0.852},{"c":"NST","P":"P=0.75","k":"band","g":"B","seg":1,"essai":23,"lo":0.803,"hi":0.857},{"c":"NST","P":"P=0.75","k":"band","g":"B","seg":1,"essai":26,"lo":0.811,"hi":0.879},{"c":"NST","P":"P=0.75","k":"band","g":"B","seg":1,"essai":29,"lo":0.85,"hi":0.93},{"c":"NST","P":"P=0.75","k":"band","g":"B","seg":1,"essai":32.5,"lo":0.885,"hi":0.968},{"c":"NST","P":"P=0.75","k":"band","g":"B","seg":1,"essai":36,"lo":0.92,"hi":0.992},
{"c":"DOPA","P":"P=0.75","k":"band","g":"B","seg":1,"essai":1,"lo":0.836,"hi":0.958},{"c":"DOPA","P":"P=0.75","k":"band","g":"B","seg":1,"essai":6,"lo":0.83,"hi":0.91},{"c":"DOPA","P":"P=0.75","k":"band","g":"B","seg":1,"essai":10,"lo":0.826,"hi":0.888},{"c":"DOPA","P":"P=0.75","k":"band","g":"B","seg":1,"essai":17,"lo":0.823,"hi":0.886},{"c":"DOPA","P":"P=0.75","k":"band","g":"B","seg":1,"essai":22.6,"lo":0.836,"hi":0.90},{"c":"DOPA","P":"P=0.75","k":"band","g":"B","seg":1,"essai":25,"lo":0.845,"hi":0.915},{"c":"DOPA","P":"P=0.75","k":"band","g":"B","seg":1,"essai":29.7,"lo":0.858,"hi":0.92},{"c":"DOPA","P":"P=0.75","k":"band","g":"B","seg":1,"essai":36.8,"lo":0.873,"hi":0.929},{"c":"DOPA","P":"P=0.75","k":"band","g":"B","seg":1,"essai":44,"lo":0.879,"hi":0.96},{"c":"DOPA","P":"P=0.75","k":"band","g":"B","seg":1,"essai":46.3,"lo":0.886,"hi":0.995},
{"c":"DOPA","P":"P=0.75","k":"band","g":"R","seg":1,"essai":1,"lo":0.668,"hi":0.836},{"c":"DOPA","P":"P=0.75","k":"band","g":"R","seg":1,"essai":6,"lo":0.67,"hi":0.778},{"c":"DOPA","P":"P=0.75","k":"band","g":"R","seg":1,"essai":10,"lo":0.662,"hi":0.755},{"c":"DOPA","P":"P=0.75","k":"band","g":"R","seg":1,"essai":14,"lo":0.655,"hi":0.746},{"c":"DOPA","P":"P=0.75","k":"band","g":"R","seg":1,"essai":18,"lo":0.66,"hi":0.751},{"c":"DOPA","P":"P=0.75","k":"band","g":"R","seg":1,"essai":22,"lo":0.667,"hi":0.758},{"c":"DOPA","P":"P=0.75","k":"band","g":"R","seg":1,"essai":25,"lo":0.68,"hi":0.774},{"c":"DOPA","P":"P=0.75","k":"band","g":"R","seg":1,"essai":29,"lo":0.705,"hi":0.8},{"c":"DOPA","P":"P=0.75","k":"band","g":"R","seg":1,"essai":33,"lo":0.734,"hi":0.836},{"c":"DOPA","P":"P=0.75","k":"band","g":"R","seg":1,"essai":38,"lo":0.765,"hi":0.862},{"c":"DOPA","P":"P=0.75","k":"band","g":"R","seg":1,"essai":42,"lo":0.78,"hi":0.88},{"c":"DOPA","P":"P=0.75","k":"band","g":"R","seg":1,"essai":45,"lo":0.77,"hi":0.9},{"c":"DOPA","P":"P=0.75","k":"band","g":"R","seg":1,"essai":48,"lo":0.73,"hi":0.918},
{"c":"NST","P":"P=1","k":"band","g":"R","seg":1,"essai":1,"lo":0.897,"hi":0.971},{"c":"NST","P":"P=1","k":"band","g":"R","seg":1,"essai":5,"lo":0.909,"hi":0.947},{"c":"NST","P":"P=1","k":"band","g":"R","seg":1,"essai":11.6,"lo":0.897,"hi":0.93},{"c":"NST","P":"P=1","k":"band","g":"R","seg":1,"essai":18.3,"lo":0.912,"hi":0.945},{"c":"NST","P":"P=1","k":"band","g":"R","seg":1,"essai":22.8,"lo":0.94,"hi":0.978},{"c":"NST","P":"P=1","k":"band","g":"R","seg":1,"essai":25.8,"lo":0.965,"hi":0.998},
{"c":"NST","P":"P=1","k":"band","g":"B","seg":1,"essai":1,"lo":0.766,"hi":0.866},{"c":"NST","P":"P=1","k":"band","g":"B","seg":1,"essai":6,"lo":0.789,"hi":0.857},{"c":"NST","P":"P=1","k":"band","g":"B","seg":1,"essai":10.6,"lo":0.801,"hi":0.863},{"c":"NST","P":"P=1","k":"band","g":"B","seg":1,"essai":15,"lo":0.813,"hi":0.869},{"c":"NST","P":"P=1","k":"band","g":"B","seg":1,"essai":18.2,"lo":0.823,"hi":0.878},{"c":"NST","P":"P=1","k":"band","g":"B","seg":1,"essai":20.8,"lo":0.851,"hi":0.90},{"c":"NST","P":"P=1","k":"band","g":"B","seg":1,"essai":23.5,"lo":0.863,"hi":0.932},{"c":"NST","P":"P=1","k":"band","g":"B","seg":1,"essai":26.1,"lo":0.894,"hi":0.963},{"c":"NST","P":"P=1","k":"band","g":"B","seg":1,"essai":27.6,"lo":0.919,"hi":0.985},{"c":"NST","P":"P=1","k":"band","g":"B","seg":1,"essai":28.5,"lo":0.94,"hi":0.998},
{"c":"DOPA","P":"P=1","k":"band","g":"B","seg":1,"essai":1,"lo":0.965,"hi":0.992},{"c":"DOPA","P":"P=1","k":"band","g":"B","seg":1,"essai":4,"lo":0.975,"hi":0.997},{"c":"DOPA","P":"P=1","k":"band","g":"B","seg":1,"essai":8,"lo":0.985,"hi":1.0},
{"c":"DOPA","P":"P=1","k":"band","g":"R","seg":1,"essai":1,"lo":0.925,"hi":0.99},{"c":"DOPA","P":"P=1","k":"band","g":"R","seg":1,"essai":2,"lo":0.945,"hi":0.995},{"c":"DOPA","P":"P=1","k":"band","g":"R","seg":1,"essai":3.5,"lo":0.96,"hi":1.0},
{"c":"DOPA","P":"P=1","k":"band","g":"R","seg":2,"essai":38,"lo":0.975,"hi":1.0},{"c":"DOPA","P":"P=1","k":"band","g":"R","seg":2,"essai":42,"lo":0.96,"hi":0.998},{"c":"DOPA","P":"P=1","k":"band","g":"R","seg":2,"essai":45,"lo":0.945,"hi":0.99},{"c":"DOPA","P":"P=1","k":"band","g":"R","seg":2,"essai":48,"lo":0.925,"hi":0.985}
]},
"facet":{
"column":{"field":"c","type":"nominal","sort":["NST","DOPA"],"title":"Essai","header":{"labelOrient":"top","titleOrient":"bottom","labelFont":"Liberation Sans","labelFontWeight":"bold","labelFontSize":14,"labelColor":"black","labelPadding":8,"titleFont":"Liberation Sans","titleFontWeight":"bold","titleFontSize":15,"titleColor":"black","titlePadding":0}},
"row":{"field":"P","type":"nominal","sort":["P=0.75","P=1"],"title":"Performance à la seconde étape","header":{"labelOrient":"right","titleOrient":"left","labelAngle":90,"labelFont":"Liberation Sans","labelFontWeight":"bold","labelFontSize":14,"labelColor":"black","labelPadding":3,"titleFont":"Liberation Sans","titleFontWeight":"bold","titleFontSize":15,"titleColor":"black","titlePadding":4}}
},
"spacing":{"row":6,"column":9},
"spec":{
"width":389,"height":223,
"layer":[
{"transform":[{"filter":"datum.k == 'pt'"}],
 "mark":{"type":"point","filled":true,"size":20,"opacity":1},
 "encoding":{
  "x":{"field":"essai","type":"quantitative","scale":{"domain":[-1.35,50.35],"nice":false,"zero":false},"axis":{"title":null,"values":[0,20,40]}},
  "y":{"field":"perf","type":"quantitative","scale":{"domain":[0.2125,1.0375],"nice":false,"zero":false},"axis":{"title":null,"values":[0.25,0.5,0.75,1],"format":".2f"}},
  "color":{"field":"g","type":"nominal","scale":{"domain":["B","R"],"range":["#4682B4","#CD5C5C"]},"legend":null}}},
{"transform":[{"filter":"datum.k == 'band'"}],
 "mark":{"type":"area","fillOpacity":0.2},
 "encoding":{
  "x":{"field":"essai","type":"quantitative"},
  "y":{"field":"lo","type":"quantitative"},
  "y2":{"field":"hi"},
  "color":{"field":"g","type":"nominal","legend":null},
  "detail":{"field":"seg","type":"nominal"}}},
{"transform":[{"filter":"datum.k == 'fit'"}],
 "mark":{"type":"line","strokeWidth":2},
 "encoding":{
  "x":{"field":"essai","type":"quantitative"},
  "y":{"field":"perf","type":"quantitative"},
  "color":{"field":"g","type":"nominal","legend":null}}},
{"transform":[{"filter":"datum.k == 'pt' && datum.g == 'B' && datum.essai == 1"}],
 "mark":{"type":"rule","color":"black","strokeWidth":1.6,"strokeDash":[2,4]},
 "encoding":{"y":{"datum":0.5}}}
]},
"config":{
 "font":"Liberation Sans",
 "view":{"stroke":"black","strokeWidth":1.5},
 "axis":{"grid":false,"domain":false,"tickColor":"#333333","tickSize":4,"tickWidth":1,"labelFont":"Liberation Sans","labelFontWeight":"bold","labelFontSize":14,"labelColor":"#4D4D4D","labelPadding":3}
}
}
